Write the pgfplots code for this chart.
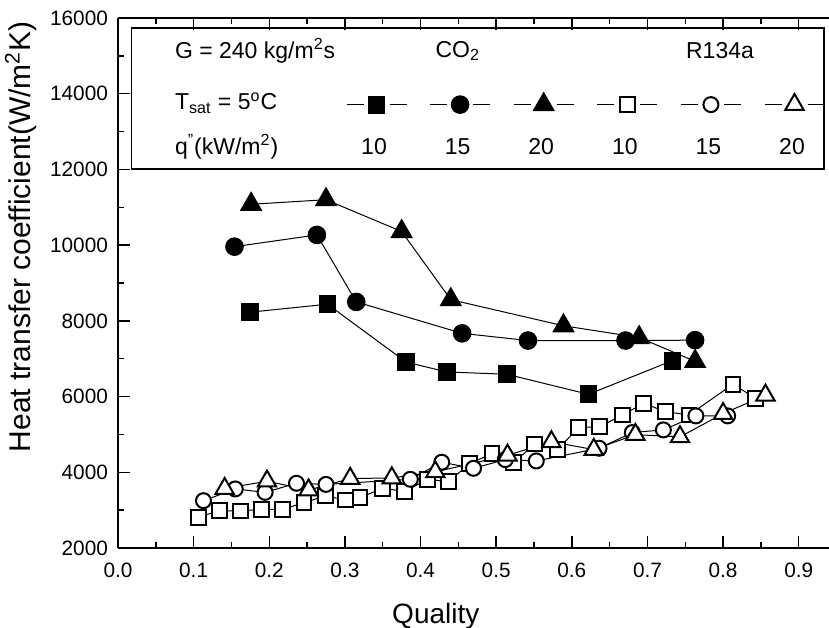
\documentclass[border=0pt]{standalone}
\usepackage{fontspec}
\setmainfont{Liberation Sans}
\usepackage{pgfplots}
\pgfplotsset{compat=1.18}
\newcommand\legfont{\fontsize{11.5}{13}\selectfont}
\newcommand\tickfont{\fontsize{10.4}{12}\selectfont}

\begin{document}
\begin{tikzpicture}
\begin{axis}[
  scale only axis,
  width=355.5pt, height=265pt,
  xmin=0, xmax=0.94, ymin=2000, ymax=16000,
  axis x line*=box, axis y line*=left,
  axis line style={line width=1pt},
  xtick={0,0.1,0.2,0.3,0.4,0.5,0.6,0.7,0.8,0.9},
  ytick={2000,4000,6000,8000,10000,12000,14000,16000},
  minor x tick num=1, minor y tick num=1,
  tick align=inside,
  major tick length=6pt, minor tick length=3pt,
  every tick/.style={black, line width=0.75pt},
  scaled x ticks=false, scaled y ticks=false,
  /pgf/number format/assume math mode=true,
  tick label style={font=\tickfont},
  xticklabel style={/pgf/number format/.cd, fixed, fixed zerofill, precision=1, /tikz/.cd, yshift=-4pt},
  yticklabel style={/pgf/number format/1000 sep={}, xshift=-1.5pt},
  xlabel={Quality},
  ylabel={Heat transfer coefficient(W/m\textsuperscript{2}K)},
  xlabel style={font=\fontsize{14}{16}\selectfont, at={(ticklabel cs:0.447)}, yshift=-6pt},
  ylabel style={font=\fontsize{15}{17}\selectfont, at={(ticklabel cs:0.587)}},
  legend style={draw=none, fill=none, inner sep=0pt, outer sep=0pt,
    at={(0.3207,0.8396)}, anchor=west, legend columns=6,
    nodes={inner sep=0pt, outer sep=0pt},
    /tikz/column sep=0pt,
    /tikz/every even column/.append style={column sep=10.3pt}},
  legend image code/.code={
    \draw[mark=none] (0pt,0pt) -- (8.5pt,0pt);
    \draw[mark=none] (21.5pt,0pt) -- (30pt,0pt);
    \draw[only marks] plot coordinates {(15pt,0pt)};},
]
% CO2, 10 kW/m2
\addplot[black, line width=0.5pt, mark=square*, mark size=4.2pt, mark options={solid, fill=black}]
  coordinates {(0.175,8230) (0.277,8440) (0.381,6910) (0.435,6650) (0.514,6590) (0.622,6060) (0.733,6950)};
\addlegendentry{\mbox{}}
% CO2, 15
\addplot[black, line width=0.5pt, mark=*, mark size=4.4pt, mark options={solid, fill=black}]
  coordinates {(0.154,9960) (0.263,10270) (0.315,8500) (0.455,7670) (0.542,7480) (0.671,7480) (0.763,7490)};
\addlegendentry{\mbox{}}
% CO2, 20
\addplot[black, line width=0.5pt, mark=triangle*, mark size=6.0pt, mark options={solid, fill=black}]
  coordinates {(0.176,11080) (0.275,11200) (0.375,10360) (0.440,8560) (0.589,7870) (0.689,7560) (0.763,6930)};
\addlegendentry{\mbox{}}
% R134a, 10
\addplot[black, line width=0.5pt, mark=square*, mark size=3.7pt, mark options={solid, fill=white, line width=1pt}]
  coordinates {(0.106,2810) (0.134,2985) (0.162,2980) (0.190,3020) (0.218,3020) (0.246,3200) (0.274,3375) (0.301,3270) (0.320,3330) (0.350,3580) (0.379,3490) (0.409,3815) (0.437,3750) (0.465,4235) (0.4945,4490) (0.523,4255) (0.551,4745) (0.581,4605) (0.609,5180) (0.637,5205) (0.667,5515) (0.695,5820) (0.724,5600) (0.755,5515) (0.813,6325) (0.843,5955)};
\addlegendentry{\mbox{}}
% R134a, 15
\addplot[black, line width=0.5pt, mark=*, mark size=3.75pt, mark options={solid, fill=white, line width=1pt}]
  coordinates {(0.113,3250) (0.155,3560) (0.1945,3470) (0.236,3710) (0.275,3680) (0.3865,3815) (0.428,4265) (0.470,4105) (0.512,4335) (0.553,4300) (0.636,4635) (0.680,5050) (0.721,5120) (0.764,5490) (0.806,5490)};
\addlegendentry{\mbox{}}
% R134a, 20
\addplot[black, line width=0.5pt, mark=triangle*, mark size=5.3pt, mark options={solid, fill=white, line width=1pt}]
  coordinates {(0.141,3570) (0.197,3765) (0.252,3530) (0.307,3835) (0.362,3850) (0.4195,4010) (0.515,4450) (0.573,4805) (0.629,4600) (0.684,4995) (0.743,4935) (0.800,5550) (0.856,6035)};
\addlegendentry{\mbox{}}

\draw[line width=0.6pt] (rel axis cs:0.019,0.715) rectangle (rel axis cs:0.993,0.981);
\node[anchor=west, font=\legfont] at (rel axis cs:0.0703,0.9377) {G = 240 kg/m\textsuperscript{2}s};
\node[font=\legfont] at (rel axis cs:0.478,0.9377) {CO\textsubscript{2}};
\node[font=\legfont] at (rel axis cs:0.8467,0.9377) {R134a};
\node[anchor=west, font=\legfont] at (rel axis cs:0.0703,0.8396) {T\textsubscript{sat} = 5\textsuperscript{o}C};
\node[anchor=west, font=\legfont] at (rel axis cs:0.0703,0.7566) {q\textsuperscript{"}(kW/m\textsuperscript{2})};
\node[font=\legfont] at (rel axis cs:0.3601,0.7566) {10};
\node[font=\legfont] at (rel axis cs:0.4777,0.7566) {15};
\node[font=\legfont] at (rel axis cs:0.5952,0.7566) {20};
\node[font=\legfont] at (rel axis cs:0.7128,0.7566) {10};
\node[font=\legfont] at (rel axis cs:0.8304,0.7566) {15};
\node[font=\legfont] at (rel axis cs:0.9480,0.7566) {20};

\coordinate (bl) at (rel axis cs:0,0);
\coordinate (tr) at (rel axis cs:1,1);
\end{axis}
\pgfresetboundingbox
\path[use as bounding box] ([xshift=-59pt,yshift=-39.5pt]bl) rectangle ([yshift=9pt]tr);
\end{tikzpicture}
\end{document}
